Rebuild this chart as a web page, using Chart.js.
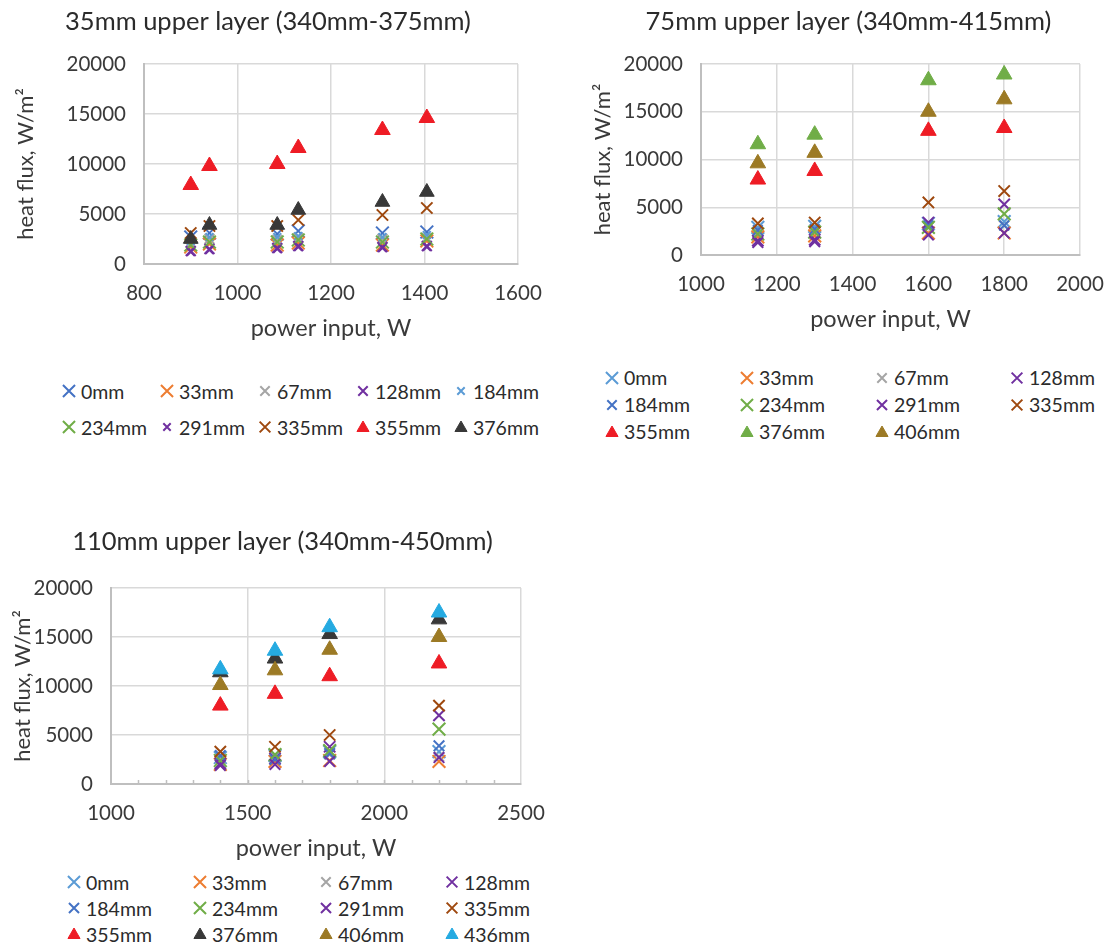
<!DOCTYPE html>
<html><head><meta charset="utf-8">
<script src="https://cdn.jsdelivr.net/npm/chart.js@4.4.1/dist/chart.umd.min.js"></script>
<style>
html,body{margin:0;padding:0;background:#fff;}
body{width:1107px;height:947px;position:relative;overflow:hidden;font-family:Lato,sans-serif;}
canvas.cv{position:absolute;}
.li{position:absolute;display:flex;align-items:center;height:24px;white-space:nowrap;font-family:Lato,sans-serif;font-size:19.5px;color:#2b2b2b;}
.li canvas{width:20px;height:20px;margin-right:2px;}
</style></head><body>
<canvas id="c1" class="cv" width="550" height="343" style="left:-7px;top:0px"></canvas>
<canvas id="c2" class="cv" width="517" height="334" style="left:590px;top:0px"></canvas>
<canvas id="c3" class="cv" width="545" height="343" style="left:10px;top:520px"></canvas>
<div id="legends"></div>
<script>
// ---------- Chart 1: 35mm upper layer ----------
const c1Title = '35mm upper layer (340mm-375mm)';
const c1Power = [900, 940, 1085, 1130, 1310, 1405];
const c1XTicks = [800, 1000, 1200, 1400, 1600];
const c1Names = ['0mm','33mm','67mm','128mm','184mm','234mm','291mm','335mm','355mm','376mm'];
const c1_0mm   = [2700, 3100, 3000, 3300, 3100, 3200];
const c1_33mm  = [1700, 2000, 1900, 2100, 1900, 2300];
const c1_67mm  = [2100, 2500, 2400, 2600, 2500, 2600];
const c1_128mm = [1300, 1500, 1600, 1800, 1700, 1800];
const c1_184mm = [2300, 2700, 2700, 2800, 2700, 2900];
const c1_234mm = [1900, 2200, 2200, 2400, 2200, 2500];
const c1_291mm = [1200, 1400, 1500, 1700, 1600, 1700];
const c1_335mm = [3100, 3800, 3800, 4400, 4900, 5600];
const c1_355mm = [7900, 9800, 10000, 11600, 13400, 14600];
const c1_376mm = [2500, 3900, 3900, 5400, 6200, 7200];

// ---------- Chart 2: 75mm upper layer ----------
const c2Title = '75mm upper layer (340mm-415mm)';
const c2Power = [1150, 1300, 1600, 1800];
const c2XTicks = [1000, 1200, 1400, 1600, 1800, 2000];
const c2Names = ['0mm','33mm','67mm','128mm','184mm','234mm','291mm','335mm','355mm','376mm','406mm'];
const c2_0mm   = [2900, 3000, 3300, 3500];
const c2_33mm  = [1900, 2000, 2300, 2300];
const c2_67mm  = [2400, 2600, 2900, 3100];
const c2_128mm = [1500, 1600, 3400, 5300];
const c2_184mm = [2600, 2700, 3100, 3100];
const c2_234mm = [2200, 2400, 2900, 4300];
const c2_291mm = [1300, 1400, 2100, 2300];
const c2_335mm = [3300, 3400, 5500, 6700];
const c2_355mm = [7900, 8800, 13000, 13300];
const c2_376mm = [11600, 12600, 18300, 18900];
const c2_406mm = [9600, 10700, 15000, 16300];

// ---------- Chart 3: 110mm upper layer ----------
const c3Title = '110mm upper layer (340mm-450mm)';
const c3Power = [1400, 1600, 1800, 2200];
const c3XTicks = [1000, 1500, 2000, 2500];
const c3Names = ['0mm','33mm','67mm','128mm','184mm','234mm','291mm','335mm','355mm','376mm','406mm','436mm'];
const c3_0mm   = [2700, 2900, 3300, 3300];
const c3_33mm  = [2000, 2300, 2400, 2300];
const c3_67mm  = [2500, 2700, 3000, 2800];
const c3_128mm = [2100, 2600, 3800, 7000];
const c3_184mm = [2900, 2500, 3100, 3900];
const c3_234mm = [2400, 3000, 3400, 5600];
const c3_291mm = [1900, 2000, 2300, 2700];
const c3_335mm = [3300, 3800, 5000, 8000];
const c3_355mm = [8000, 9200, 11000, 12300];
const c3_376mm = [11400, 12800, 15300, 16800];
const c3_406mm = [10100, 11600, 13700, 15000];
const c3_436mm = [11700, 13600, 16000, 17500];

const yTicks = [0, 5000, 10000, 15000, 20000];
const xAxisTitle = 'power input, W';
const yAxisTitle = 'heat flux, W/m²';

// ---------- styles ----------
const COL = {blue:'#4472C4', ltblue:'#5B9BD5', orange:'#ED7D31', gray:'#A5A5A5', purple:'#7030A0',
  green:'#70AD47', brown:'#9E480E', red:'#EE1C25', dark:'#383838', olive:'#9C7A25', cyan:'#25AAE1'};
const X = (c, r) => ({s:'crossRot', c, r});
const T = (c, r) => ({s:'triangle', c, r});
const c1Styles = [X(COL.blue,9), X(COL.orange,9), X(COL.gray,7), X(COL.purple,7), X(COL.ltblue,5.5),
  X(COL.green,9), X(COL.purple,5.5), X(COL.brown,8), T(COL.red,9), T(COL.dark,8.5)];
const c2Styles = [X(COL.ltblue,9), X(COL.orange,9), X(COL.gray,7), X(COL.purple,8), X(COL.blue,7),
  X(COL.green,9), X(COL.purple,7.5), X(COL.brown,8), T(COL.red,9), T(COL.green,9), T(COL.olive,9)];
const c3Styles = [X(COL.ltblue,9), X(COL.orange,9), X(COL.gray,7), X(COL.purple,8), X(COL.blue,7.5),
  X(COL.green,9), X(COL.purple,7.5), X(COL.brown,8), T(COL.red,9), T(COL.dark,9), T(COL.olive,9), T(COL.cyan,9)];

const c1Values = [c1_0mm,c1_33mm,c1_67mm,c1_128mm,c1_184mm,c1_234mm,c1_291mm,c1_335mm,c1_355mm,c1_376mm];
const c2Values = [c2_0mm,c2_33mm,c2_67mm,c2_128mm,c2_184mm,c2_234mm,c2_291mm,c2_335mm,c2_355mm,c2_376mm,c2_406mm];
const c3Values = [c3_0mm,c3_33mm,c3_67mm,c3_128mm,c3_184mm,c3_234mm,c3_291mm,c3_335mm,c3_355mm,c3_376mm,c3_406mm,c3_436mm];

const FONT = 'Lato';
const TXT = '#3a3a3a';

function datasets(power, names, values, styles) {
  const n = names.length;
  return names.map((name, i) => ({
    label: name,
    data: power.map((p, j) => ({x: p, y: values[i][j]})),
    pointStyle: styles[i].s,
    pointRadius: styles[i].r,
    pointHoverRadius: styles[i].r,
    pointBorderWidth: styles[i].s === 'triangle' ? 1 : 2,
    borderColor: styles[i].c,
    backgroundColor: styles[i].c,
    showLine: false,
    order: n - i
  }));
}

const minorTicksPlugin = {
  id: 'minorTicks',
  afterDraw(chart, args, opts) {
    if (!opts || !opts.step) return;
    const xs = chart.scales.x, ctx = chart.ctx, b = chart.chartArea.bottom;
    ctx.save();
    ctx.strokeStyle = '#BFBFBF';
    ctx.lineWidth = 1.5;
    for (let v = xs.min + opts.step; v < xs.max; v += opts.step) {
      const px = Math.round(xs.getPixelForValue(v)) + 0.5;
      ctx.beginPath(); ctx.moveTo(px, b - 4); ctx.lineTo(px, b); ctx.stroke();
    }
    ctx.restore();
  }
};

function makeChart(id, o) {
  return new Chart(document.getElementById(id), {
    type: 'scatter',
    data: {datasets: datasets(o.power, o.names, o.values, o.styles)},
    plugins: [minorTicksPlugin],
    options: {
      responsive: false, animation: false, events: [],
      layout: {padding: 0},
      plugins: {
        legend: {display: false}, tooltip: {enabled: false},
        minorTicks: {step: o.minorStep || 0},
        title: {display: true, text: o.title, color: '#2b2b2b',
          font: {family: FONT, size: 25.5, weight: 'normal', lineHeight: 1.2},
          padding: {top: 6, bottom: o.titleBottom}}
      },
      scales: {
        x: {
          type: 'linear', min: o.xTicks[0], max: o.xTicks[o.xTicks.length - 1],
          afterBuildTicks: s => { s.ticks = o.xTicks.map(v => ({value: v})); },
          ticks: {color: TXT, font: {family: FONT, size: 20.5}, padding: 17, maxRotation: 0, callback: v => String(v)},
          grid: {color: '#D9D9D9', lineWidth: 1.5, drawTicks: false},
          border: {color: '#BFBFBF', width: 2},
          title: {display: true, text: xAxisTitle, color: TXT, font: {family: FONT, size: 23.5, lineHeight: 1.2}, padding: {top: 0, bottom: 0}},
          afterFit: s => { s.height = o.xH; s.paddingRight = o.padR; }
        },
        y: {
          type: 'linear', min: yTicks[0], max: yTicks[yTicks.length - 1],
          afterBuildTicks: s => { s.ticks = yTicks.map(v => ({value: v})); },
          ticks: {color: TXT, font: {family: FONT, size: 20.5}, padding: 18, callback: v => String(v)},
          grid: {color: '#D9D9D9', lineWidth: 1.5, drawTicks: false},
          border: {color: '#BFBFBF', width: 2},
          title: {display: true, text: yAxisTitle, color: TXT, font: {family: FONT, size: 22, lineHeight: 1.2}, padding: {top: o.yTitlePad, bottom: 0}},
          afterFit: s => { s.width = o.yW; }
        }
      }
    }
  });
}

makeChart('c1', {title: c1Title, power: c1Power, names: c1Names, values: c1Values, styles: c1Styles,
  xTicks: c1XTicks, padR: 25, titleBottom: 27.4, xH: 79, yW: 151, yTitlePad: 20});
makeChart('c2', {title: c2Title, power: c2Power, names: c2Names, values: c2Values, styles: c2Styles,
  xTicks: c2XTicks, padR: 27, titleBottom: 27.4, xH: 79, yW: 111, yTitlePad: 0});
makeChart('c3', {title: c3Title, power: c3Power, names: c3Names, values: c3Values, styles: c3Styles,
  xTicks: c3XTicks, padR: 34, titleBottom: 31.4, xH: 79, yW: 101, yTitlePad: 0, minorStep: 100});

// ---------- HTML legends (Excel-like grid) ----------
function legend(names, styles, x0, colW, cols, rowYs, legendScale) {
  const host = document.getElementById('legends');
  names.forEach((name, i) => {
    const col = i % cols, row = Math.floor(i / cols);
    const cx = x0 + col * colW, cy = rowYs[row];
    const d = document.createElement('div');
    d.className = 'li';
    d.style.left = (cx - 10) + 'px';
    d.style.top = (cy - 12) + 'px';
    const cv = document.createElement('canvas');
    cv.width = 20; cv.height = 20;
    const ctx = cv.getContext('2d');
    const st = styles[i];
    ctx.strokeStyle = st.c; ctx.fillStyle = st.c;
    ctx.lineWidth = st.s === 'triangle' ? 1 : 2;
    const r = st.s === 'triangle' ? 7 : st.r * legendScale;
    Chart.helpers.drawPoint(ctx, {pointStyle: st.s, radius: r, rotation: 0, borderWidth: ctx.lineWidth}, 10, st.s === 'triangle' ? 11 : 10);
    const sp = document.createElement('span');
    sp.textContent = name;
    d.appendChild(cv); d.appendChild(sp);
    host.appendChild(d);
  });
}
legend(c1Names, c1Styles, 69, 98, 5, [391, 427], 0.95);
legend(c2Names, c2Styles, 612, 135, 4, [377.5, 404.5, 431.5], 0.95);
legend(c3Names, c3Styles, 74, 126, 4, [882, 908, 934], 0.95);
</script>
</body></html>
